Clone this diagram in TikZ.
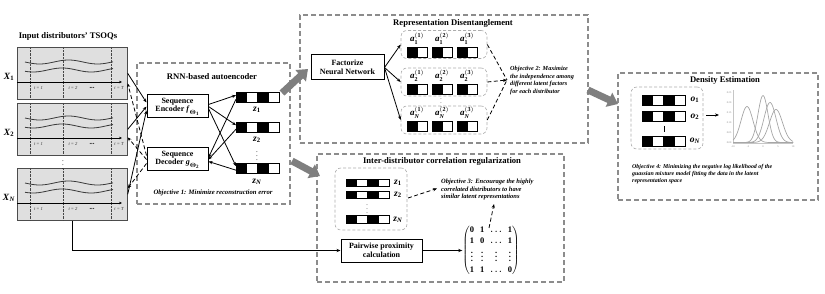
\documentclass[tikz,border=0pt]{standalone}
\usepackage{fontspec}
\setmainfont{Liberation Serif}
\usepackage{amsmath,bm}
\usetikzlibrary{arrows.meta,calc}
\definecolor{arrgray}{HTML}{7F7F7F}
\definecolor{boxgray}{HTML}{8C8C8C}
\newcommand{\bi}[1]{\textbf{\textit{#1}}}
\tikzset{
 dbox/.style={draw=boxgray, line width=1.1pt, dash pattern=on 5pt off 3pt, inner sep=0},
 gbox/.style={draw=gray!65, line width=0.6pt, dash pattern=on 3pt off 2pt, rounded corners=6pt, inner sep=0},
 sbox/.style={draw=black, line width=1pt, fill=white, align=center, inner sep=0, font=\fontsize{8}{8.8}\selectfont\bfseries},
 ttl/.style={font=\fontsize{8.6}{9}\selectfont\bfseries, inner sep=0},
 obj/.style={font=\fontsize{6.2}{7.6}\selectfont\bfseries\itshape, align=left, inner sep=0},
 arr/.style={-{Stealth[length=4pt,width=3.2pt]}, line width=0.8pt},
 darr/.style={-{Stealth[length=4pt,width=3.2pt]}, line width=0.8pt, dash pattern=on 4pt off 2.5pt},
 dline/.style={line width=0.8pt, dash pattern=on 4pt off 2.5pt},
 bigarrow/.style={line width=7pt, draw=arrgray, -{Triangle[width=15pt,length=10pt]}},
 xbox/.style={draw=gray!60!black, fill=gray!25, line width=0.7pt, minimum width=110pt, minimum height=52pt, inner sep=0},
 wave/.style={draw=gray!45!black, line width=0.8pt},
 lbl/.style={font=\fontsize{9.5}{9.5}\selectfont, inner sep=0},
 tiny/.style={font=\fontsize{4.6}{5}\selectfont\itshape, inner sep=0, text=black!80},
 curve/.style={draw=gray!70, line width=0.7pt},
 ticklbl/.style={font=\fontsize{2.6}{3}\selectfont, text=gray, inner sep=0},
}
% name, left x, top y, cell width, height
\newcommand{\fourbar}[5]{%
  \foreach \kk/\fc in {0/black,1/white,2/black,3/white}
    \draw[line width=0.7pt, fill=\fc] ({#2+\kk*#4},#3) rectangle ++(#4,#5);
  \node[inner sep=0, minimum width={4*#4}, minimum height=#5, anchor=north west] (#1) at (#2,#3) {};
}
\newcommand{\twobar}[5]{%
  \draw[line width=0.7pt, fill=black] (#2,#3) rectangle ++(#4,#5);
  \draw[line width=0.7pt, fill=white] ({#2+#4},#3) rectangle ++(#4,#5);
  \node[inner sep=0, minimum width={2*#4}, minimum height=#5, anchor=north west] (#1) at (#2,#3) {};
}
\begin{document}
\begin{tikzpicture}[x=1pt,y=-1pt]
\useasboundingbox (0,0) rectangle (825,294);

% ---------------- Input TSOQs ----------------
\node[ttl] (intitle) at (68,36) {Input distributors’ TSOQs};
\foreach \t/\n/\l in {47/x1/\mathbf{1},103/x2/\mathbf{2},168/xn/\bi{N}}{
  \node[xbox, anchor=north west] (\n) at (17,\t) {};
  \foreach \vx in {30,63,111}
    \draw[gray!55!black, line width=0.4pt, densely dotted] (\vx,\t) -- (\vx,\t+52);
  \draw[wave] plot[domain=25:113, samples=45, smooth] (\x,{\t+15+2*sin(6.2*(\x-25))});
  \draw[wave] plot[domain=25:113, samples=45, smooth] (\x,{\t+23+2*sin(6.2*(\x-25)+40)});
  \draw[line width=0.8pt, -{Stealth[length=3pt,width=2.6pt]}] (17,\t+35) -- (122,\t+35);
  \node[tiny] at (38.5,\t+41) {t = 1};
  \node[tiny] at (73,\t+41) {t = 2};
  \node[tiny] at (92,\t+41) {\textbf{\textbullet\textbullet\textbullet}};
  \node[tiny] at (119,\t+41) {t = T};
  \node[lbl] at (9,\t+30) {$\bi{X}_{\l}$};
}
\node[font=\fontsize{7}{7}\selectfont, inner sep=0] (xdots) at (63,162) {$\vdots$};

% ---------------- RNN autoencoder ----------------
\node[dbox, minimum width=153pt, minimum height=141pt] (rnn) at (213.5,133.5) {};
\node[ttl] (rnntitle) at (212,77) {RNN-based autoencoder};
\node[sbox, minimum width=61pt, minimum height=23pt] (enc) at (177.5,106.5) {Sequence\\Encoder $\bi{f}_{\bm{\Theta}_{\mathbf{1}}}$};
\node[sbox, minimum width=61pt, minimum height=23pt] (dec) at (177.5,159.5) {Sequence\\Decoder $\bi{g}_{\bm{\Theta}_{\mathbf{2}}}$};
\fourbar{z1}{236}{92}{10.75}{10}
\fourbar{z2}{236}{122}{10.75}{10}
\fourbar{zn}{236}{163}{10.75}{10}
\node[lbl] (z1l) at (257,110) {$\bi{z}_{\mathbf{1}}$};
\node[lbl] (z2l) at (257,140) {$\bi{z}_{\mathbf{2}}$};
\node[font=\fontsize{7}{7}\selectfont, inner sep=0] (zdots) at (257,153) {$\vdots$};
\node[lbl] (znl) at (257,182) {$\bi{z}_{\bi{N}}$};
\node[obj, font=\fontsize{6.7}{7.6}\selectfont\bfseries\itshape] (obj1) at (213,193) {Objective 1: Minimize reconstruction error};

\draw[arr] (x1.east) -- ($(enc.west)+(0,-4)$);
\draw[arr] (x2.east) -- (enc.west);
\draw[arr] (xn.east) -- ($(enc.west)+(0,4)$);
\draw[darr] ($(dec.west)+(0,-4)$) -- ($(x1.east)+(0,10)$);
\draw[darr] (dec.west) -- ($(x2.east)+(0,8)$);
\draw[darr] ($(dec.west)+(0,4)$) -- ($(xn.east)+(0,-6)$);

\draw[arr] ($(enc.east)+(0,-2)$) -- ($(z1.west)+(0,-2)$);
\draw[arr] (enc.east) -- ($(z2.west)+(0,-2)$);
\draw[arr] ($(enc.east)+(0,2)$) -- ($(zn.west)+(0,-2)$);
\draw[arr] ($(z1.west)+(0,2)$) -- ($(dec.east)+(0,-2)$);
\draw[arr] ($(z2.west)+(0,2)$) -- (dec.east);
\draw[arr] ($(zn.west)+(0,2)$) -- ($(dec.east)+(0,2)$);

% ---------------- Representation Disentanglement ----------------
\node[dbox, minimum width=288pt, minimum height=128pt] (rep) at (444,79) {};
\node[ttl] (reptitle) at (453,23) {Representation Disentanglement};
\node[sbox, minimum width=73pt, minimum height=25pt] (fac) at (347.5,67.5) {Factorize\\Neural Network};
\node[gbox, minimum width=86pt, minimum height=28pt] (g1) at (444,44.5) {};
\node[gbox, minimum width=86pt, minimum height=28pt] (g2) at (444,82) {};
\node[gbox, minimum width=86pt, minimum height=28pt] (gn) at (444,120) {};
\node[font=\fontsize{5.5}{5.5}\selectfont, inner sep=0] (gdots) at (441,100.5) {$\vdots$};
\foreach \gy/\gi/\gs in {47/\mathbf{1}/a,84/\mathbf{2}/b,121/\bi{N}/c}{
  \foreach \ux/\uk in {407/1,432/2,457/3}{
    \twobar{f\gs\uk}{\ux}{\gy}{10}{10}
    \node[font=\fontsize{9}{9}\selectfont, inner sep=0] at (\ux+10,\gy-8.5) {$\bi{a}_{\gi}^{\mathbf{(\uk)}}$};
  }
}
\draw[arr] (fac.east) -- (g1.west);
\draw[arr] (fac.east) -- (g2.west);
\draw[arr] (fac.east) -- (gn.west);
\coordinate (tip2) at (507,80);
\draw[dline] (g1.east) -- (tip2);
\draw[darr] (g2.east) -- (tip2);
\draw[dline] (gn.east) -- (tip2);
\node[obj, anchor=west] (obj2) at (510,80.5) {Objective 2: Maximize\\the independence among\\different latent factors\\for each distributor};

% ---------------- Inter-distributor correlation ----------------
\node[dbox, minimum width=247pt, minimum height=128pt] (inter) at (440.5,218) {};
\node[ttl] (intertitle) at (442,161) {Inter-distributor correlation regularization};
\node[gbox, minimum width=72pt, minimum height=62pt] (gz) at (371,199) {};
\fourbar{c1}{346}{179}{10.75}{7.5}
\fourbar{c2}{346}{191}{10.75}{7.5}
\fourbar{cn}{346}{215.5}{10.75}{7.5}
\node[lbl] (c1l) at (398,183) {$\bi{z}_{\mathbf{1}}$};
\node[lbl] (c2l) at (398,195) {$\bi{z}_{\mathbf{2}}$};
\node[font=\fontsize{6}{6}\selectfont, inner sep=0] (cdots) at (367,206) {$\vdots$};
\node[lbl] (cnl) at (398,219.5) {$\bi{z}_{\bi{N}}$};
\node[obj, anchor=west, font=\fontsize{6.5}{7.6}\selectfont\bfseries\itshape] (obj3) at (441,189.5) {Objective 3: Encourage the highly\\correlated distributors to have\\similar latent representations};
\draw[darr] (408,198) -- (437,188.5);
\node[sbox, minimum width=81pt, minimum height=23pt] (pair) at (381.5,250.5) {Pairwise proximity\\calculation};
\node[inner sep=0, font=\fontsize{8.5}{11}\selectfont] (mat) at (491,250.5) {\setlength{\arraycolsep}{3pt}$\left(\begin{array}{@{}cccc@{}}
 \mathbf{0}&\mathbf{1}&\boldsymbol{\ldots}&\mathbf{1}\\
 \mathbf{1}&\mathbf{0}&\boldsymbol{\ldots}&\mathbf{1}\\
 \boldsymbol{\vdots}&\boldsymbol{\vdots}&\boldsymbol{\vdots}&\boldsymbol{\vdots}\\
 \mathbf{1}&\mathbf{1}&\boldsymbol{\ldots}&\mathbf{0}
 \end{array}\right)$};
\draw[arr] (pair.east) -- (mat.west);
\draw[darr] (489,228) -- (494,204);
\draw[arr] (xn.south) |- (pair.west);

% ---------------- Density estimation ----------------
\node[dbox, minimum width=200pt, minimum height=127pt] (dens) at (718,136.5) {};
\node[ttl] (denstitle) at (725,80) {Density Estimation};
\node[gbox, minimum width=72pt, minimum height=62pt] (go) at (667,118) {};
\fourbar{o1}{642}{95}{10.75}{10}
\fourbar{o2}{642}{111.5}{10.75}{10}
\fourbar{on}{642}{136}{10.75}{10}
\node[lbl] (o1l) at (695,100) {$\bi{o}_{\mathbf{1}}$};
\node[lbl] (o2l) at (695,116.5) {$\bi{o}_{\mathbf{2}}$};
\draw[line width=0.7pt] (664,126) -- (664,132);
\node[lbl] (onl) at (695,141) {$\bi{o}_{\bi{N}}$};
\draw[arr] (706,115) -- (719,115);
% plot
\draw[gray!45, line width=0.3pt] (733,90) -- (733,143) -- (793,143);
\foreach \v/\yy in {0.00/143,0.05/133,0.10/123,0.15/113,0.20/103,0.25/93}
  \node[ticklbl, anchor=east] at (731.5,\yy) {\v};
\foreach \v/\xx in {-10/733,-5/748,0/763,5/778,10/793}
  \node[ticklbl] at (\xx,147) {\v};
\draw[curve] plot[domain=733:793, samples=70, smooth] (\x,{142.5-36*exp(-((\x-747)/6)^2/2)});
\draw[curve] plot[domain=733:793, samples=70, smooth] (\x,{142.5-47*exp(-((\x-763)/5)^2/2)});
\draw[curve] plot[domain=733:793, samples=70, smooth] (\x,{142.5-40*exp(-((\x-770)/6)^2/2)});
\draw[curve] plot[domain=733:793, samples=70, smooth] (\x,{142.5-33*exp(-((\x-776)/6.5)^2/2)});
\node[obj, anchor=north west, font=\fontsize{5.9}{6.7}\selectfont\bfseries\itshape] (obj4) at (632,164.5) {Objective 4: Minimizing the negative log likelihood of the\\guassian mixture model fitting the data in the latent\\representation space};

% ---------------- big grey arrows ----------------
\draw[bigarrow] (282,93) -- (308,69);
\draw[bigarrow] (292,161) -- (320,176);
\draw[bigarrow] (588,90) -- (618,104);
\end{tikzpicture}
\end{document}
